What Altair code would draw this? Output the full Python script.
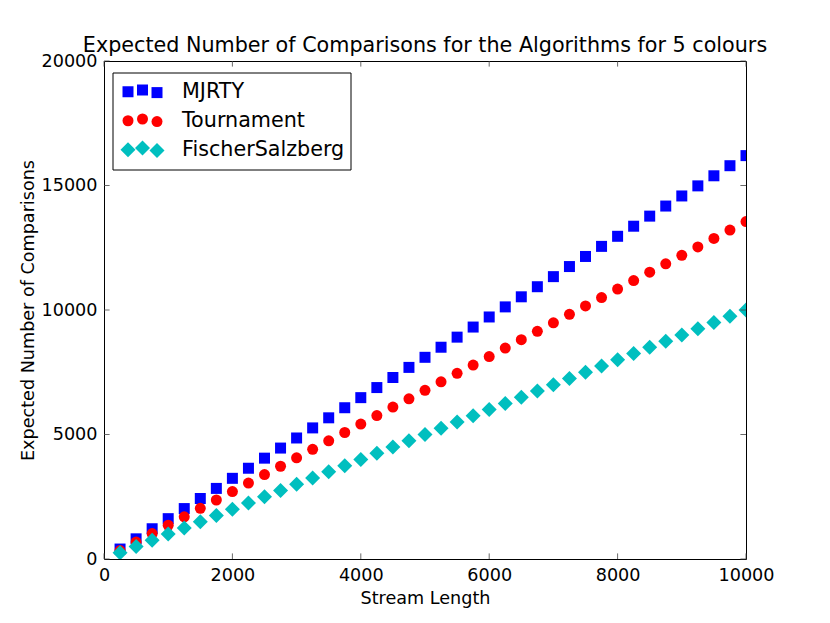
import altair as alt
import pandas as pd

# ---- data ----
stream_length = [250, 500, 750, 1000, 1250, 1500, 1750, 2000, 2250, 2500,
                 2750, 3000, 3250, 3500, 3750, 4000, 4250, 4500, 4750, 5000,
                 5250, 5500, 5750, 6000, 6250, 6500, 6750, 7000, 7250, 7500,
                 7750, 8000, 8250, 8500, 8750, 9000, 9250, 9500, 9750, 10000]
mjrty = [400, 810, 1215, 1620, 2025, 2430, 2835, 3240, 3645, 4050,
         4455, 4860, 5265, 5670, 6075, 6480, 6885, 7290, 7695, 8100,
         8505, 8910, 9315, 9720, 10125, 10530, 10935, 11340, 11745, 12150,
         12555, 12960, 13365, 13770, 14175, 14580, 14985, 15390, 15795, 16200]
tournament = [340, 680, 1020, 1355, 1695, 2035, 2370, 2710, 3050, 3390,
              3725, 4065, 4405, 4745, 5080, 5420, 5760, 6100, 6435, 6775,
              7115, 7455, 7790, 8130, 8470, 8810, 9145, 9485, 9825, 10165,
              10500, 10840, 11180, 11520, 11855, 12195, 12535, 12875, 13210, 13550]
fischer = [250, 500, 750, 1000, 1250, 1500, 1750, 2000, 2250, 2500,
           2750, 3000, 3250, 3500, 3750, 4000, 4250, 4500, 4750, 5000,
           5250, 5500, 5750, 6000, 6250, 6500, 6750, 7000, 7250, 7500,
           7750, 8000, 8250, 8500, 8750, 9000, 9250, 9500, 9750, 10000]
series_names = ["MJRTY", "Tournament", "FischerSalzberg"]
series_colors = ["#0000ff", "#ff0000", "#00bfbf"]
series_shapes = ["square", "circle", "diamond"]
series_sizes = [121, 121, 225]
x_ticks = [0, 2000, 4000, 6000, 8000, 10000]
y_ticks = [0, 5000, 10000, 15000, 20000]

title_text = "Expected Number of Comparisons for the Algorithms for 5 colours"
x_title = "Stream Length"
y_title = "Expected Number of Comparisons"

FONT = "DejaVu Sans"
W, H = 642, 498
TICK = 5.6
FS_SMALL = 17.6
FS_LARGE = 20.7

rows = []
for name, vals in zip(series_names, [mjrty, tournament, fischer]):
    for n, v in zip(stream_length, vals):
        rows.append({"n": n, "value": v, "series": name})
df = pd.DataFrame(rows)

xscale = alt.Scale(domain=[0, 10000], nice=False, zero=False)
yscale = alt.Scale(domain=[0, 20000], nice=False, zero=False)
xaxis = alt.Axis(values=x_ticks, title=x_title, format="d", labelFlush=False,
                 labelOverlap=False, titleBaseline="alphabetic", titleY=44)
yaxis = alt.Axis(values=y_ticks, title=y_title, format="d", labelFlush=False,
                 labelOverlap=False, titleBaseline="alphabetic", titleX=-71,
                 titleY=H / 2, titleAngle=270, titleAlign="center")

layers = []
for name, col, shp, sz in zip(series_names, series_colors, series_shapes, series_sizes):
    layers.append(
        alt.Chart(df).transform_filter(alt.datum.series == name)
        .mark_point(shape=shp, filled=True, size=sz, color=col, opacity=1, clip=True)
        .encode(x=alt.X("n:Q", scale=xscale, axis=xaxis),
                y=alt.Y("value:Q", scale=yscale, axis=yaxis))
    )

xt = pd.DataFrame({"v": x_ticks})
yt = pd.DataFrame({"v": y_ticks})
tick_style = dict(color="#444444", strokeWidth=0.8)
layers.append(alt.Chart(xt).mark_rule(**tick_style).encode(
    x=alt.X("v:Q", scale=xscale, axis=xaxis), y=alt.value(H), y2=alt.value(H - TICK)))
layers.append(alt.Chart(xt).mark_rule(**tick_style).encode(
    x=alt.X("v:Q", scale=xscale, axis=xaxis), y=alt.value(0), y2=alt.value(TICK)))
layers.append(alt.Chart(yt).mark_rule(**tick_style).encode(
    y=alt.Y("v:Q", scale=yscale, axis=yaxis), x=alt.value(0), x2=alt.value(TICK)))
layers.append(alt.Chart(yt).mark_rule(**tick_style).encode(
    y=alt.Y("v:Q", scale=yscale, axis=yaxis), x=alt.value(W), x2=alt.value(W - TICK)))

# ---- legend (matplotlib style, 3 scatter points per entry) ----
one = pd.DataFrame({"k": [0]})
layers.append(alt.Chart(one).mark_rect(fill="white", stroke="black", strokeWidth=1).encode(
    x=alt.value(9), x2=alt.value(247), y=alt.value(12), y2=alt.value(109)))
marker_x = [24, 38.5, 53]
marker_dy = [1.75, 0, 2.6]
row_top = [29, 58, 87]
text_base = [36.5, 65.5, 94.5]
for i, (name, col, shp, sz) in enumerate(zip(series_names, series_colors, series_shapes, series_sizes)):
    for mx, dy in zip(marker_x, marker_dy):
        layers.append(alt.Chart(one).mark_point(shape=shp, filled=True, size=sz, color=col, opacity=1)
                      .encode(x=alt.value(mx), y=alt.value(row_top[i] + dy)))
    layers.append(alt.Chart(one).mark_text(text=name, font=FONT, fontSize=FS_LARGE, align="left",
                                           baseline="alphabetic", color="black")
                  .encode(x=alt.value(78), y=alt.value(text_base[i])))

chart = alt.layer(*layers).properties(
    width=W, height=H,
    title=alt.TitleParams(text=title_text, font=FONT, fontSize=FS_LARGE, fontWeight="normal",
                          anchor="middle", frame="group", baseline="alphabetic", offset=7,
                          dy=28, color="black"),
    autosize=alt.AutoSizeParams(type="none"),
    padding={"left": 96, "top": 53, "right": 60, "bottom": 50},
    background="white",
).configure_view(stroke="black", strokeWidth=1).configure_axis(
    grid=False, domain=False, ticks=False, tickSize=0, labelPadding=7,
    labelFont=FONT, labelFontSize=FS_SMALL, labelColor="black",
    titleFont=FONT, titleFontSize=FS_SMALL, titleFontWeight="normal", titleColor="black",
)

chart.save("out.html", embed_options={"renderer": "svg", "actions": False})
